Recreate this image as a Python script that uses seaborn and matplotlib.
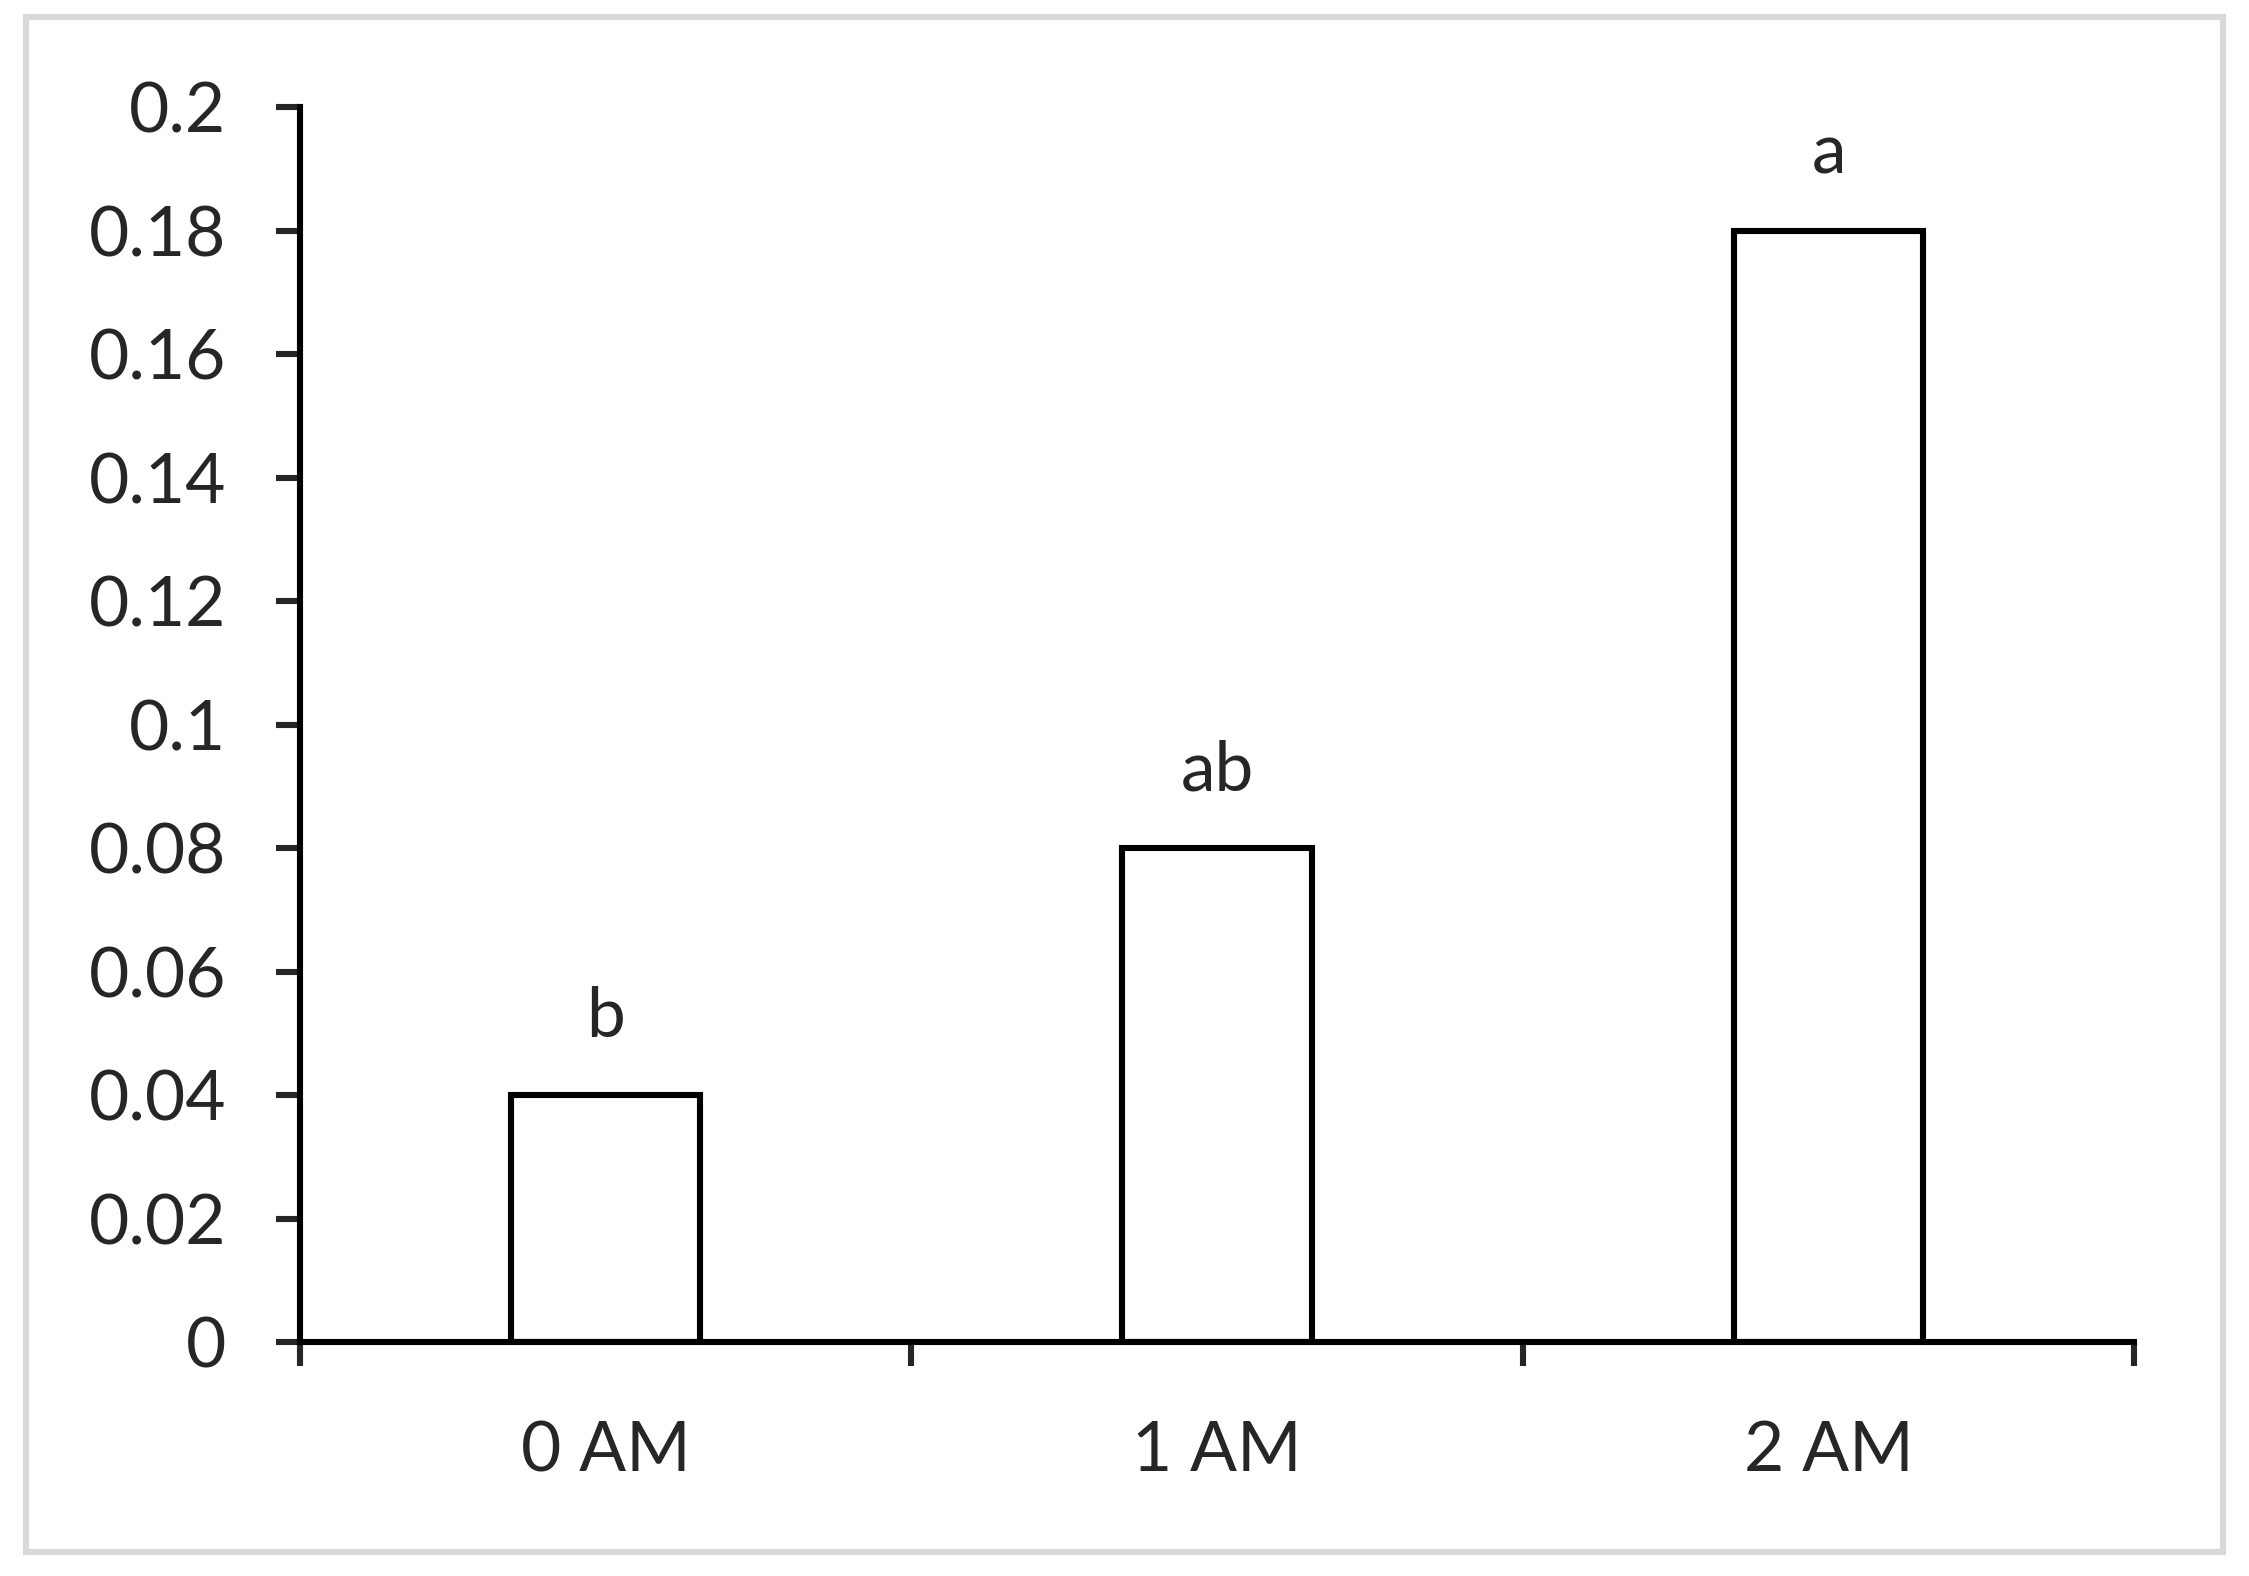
import pandas as pd
import seaborn as sns
import matplotlib.pyplot as plt
import matplotlib.patches as mpatches
from matplotlib.ticker import FuncFormatter, FixedLocator

# values
times = ['0 AM', '1 AM', '2 AM']
values = [0.04, 0.08, 0.18]
letters = ['b', 'ab', 'a']

df = pd.DataFrame({'Time': times, 'Value': values})

sns.set_style('white')
plt.rcParams['font.family'] = ['Lato', 'DejaVu Sans']

fig = plt.figure(figsize=(22.49, 15.76), dpi=100)
ax = fig.add_axes([0.1333, 0.1483, 0.949 - 0.1333, 0.9318 - 0.1483])

lw = 4.4
sns.barplot(data=df, x='Time', y='Value', color='white', edgecolor='black',
            linewidth=lw, width=0.31, ax=ax)

# significance letters above bars
for i, (v, lab) in enumerate(zip(values, letters)):
    ax.annotate(lab, (i, v), xytext=(0, 33), textcoords='offset points',
                ha='center', va='bottom', fontsize=50)

ax.set_xlim(-0.5, 2.5)
ax.set_ylim(0, 0.2)
ax.set_yticks([i * 0.02 for i in range(11)])
ax.yaxis.set_major_formatter(FuncFormatter(lambda x, pos: f'{round(x, 2):g}'))

# excel style: ticks between categories, labels at centers
ax.xaxis.set_major_locator(FixedLocator([-0.5, 0.5, 1.5, 2.5]))
ax.xaxis.set_minor_locator(FixedLocator([0, 1, 2]))
ax.set_xticklabels([], minor=False)
ax.set_xticklabels(times, minor=True)
ax.tick_params(axis='x', which='major', direction='out', length=17, width=lw, bottom=True)
ax.tick_params(axis='x', which='minor', length=0, pad=56, labelsize=50)
ax.tick_params(axis='y', direction='out', length=17, width=lw, left=True, pad=36, labelsize=50)

for side in ['top', 'right']:
    ax.spines[side].set_visible(False)
for side in ['left', 'bottom']:
    ax.spines[side].set_linewidth(lw)
    ax.spines[side].set_color('black')

ax.set_xlabel('')
ax.set_ylabel('')

# light grey frame round the whole chart
frame = mpatches.Rectangle((26 / 2249, 1 - 1552 / 1576), (2223 - 26) / 2249, (1552 - 17) / 1576,
                           transform=fig.transFigure, fill=False, edgecolor='#d9d9d9',
                           linewidth=4.5)
fig.patches.append(frame)

fig.savefig('out.png', dpi=100)
